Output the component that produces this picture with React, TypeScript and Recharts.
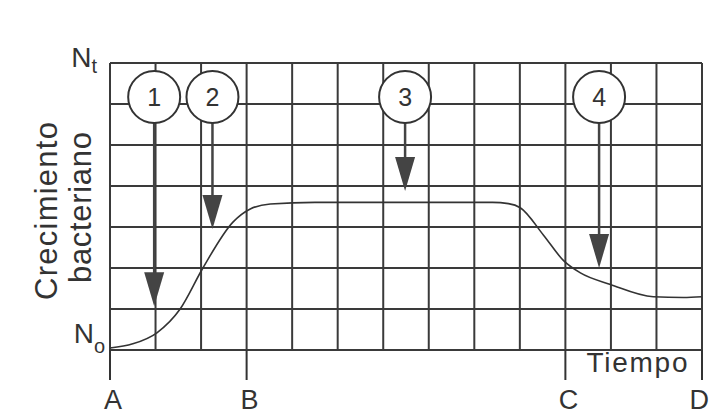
import React from 'react';
import { LineChart, Line, XAxis, YAxis, CartesianGrid, ReferenceLine, ReferenceDot } from 'recharts';

// curva de crecimiento (x en divisiones de la rejilla)
const tiempo = [0, 0.5, 1.03, 1.54, 2.04, 2.7, 3.08, 3.52, 4.5, 6.5, 8.4, 8.75, 9.01, 9.52, 9.96, 10.33, 10.99, 11.93, 12.59, 13];
const poblacion = [0.05, 0.15, 0.42, 1.0, 2.0, 3.12, 3.44, 3.56, 3.6, 3.6, 3.6, 3.57, 3.47, 2.8, 2.18, 1.88, 1.6, 1.3, 1.28, 1.3];

// rejilla
const gridX = [0, 1, 2, 3, 4, 5, 6, 7, 8, 9, 10, 11, 12, 13];
const gridY = [0, 1, 2, 3, 4, 5, 6, 7];

// letras del eje de tiempo
const letraTicks = [0, 3, 10, 13];
const letras = ['A', 'B', 'C', 'D'];

// N0 / Nt
const nTicks = [0, 7];
const nSub = ['o', 't'];

// fases numeradas
const fases = ['1', '2', '3', '4'];
const faseX = [0.97, 2.25, 6.48, 10.74];
const faseY = [6.17, 6.17, 6.17, 6.17];
const puntaY = [1.07, 2.95, 3.88, 2.0];

const data = tiempo.map((t, i) => ({ t, n: poblacion[i] }));

const INK = '#333';
const R = 26;

const Flecha = (props: any) => {
  const { x1, y1, x2, y2 } = props;
  const head = 34;
  const half = 10;
  return (
    <g>
      <line x1={x1} y1={y1 + R} x2={x2} y2={y2 - head + 2} stroke="#444" strokeWidth={2.5} />
      <polygon points={`${x2 - half},${y2 - head} ${x2 + half},${y2 - head} ${x2},${y2}`} fill="#444" />
    </g>
  );
};

const TickTiempo = ({ x, y, payload }: any) => {
  const i = letraTicks.indexOf(payload.value);
  if (i < 0) return <g />;
  const last = i === letras.length - 1;
  return (
    <g>
      <line x1={x} y1={y} x2={x} y2={y + 30} stroke={INK} strokeWidth={2} />
      <text x={last ? x + 7 : x + 3} y={y + 59} textAnchor={last ? 'end' : 'middle'} fontSize={27} fill={INK}>
        {letras[i]}
      </text>
    </g>
  );
};

const TickN = ({ x, y, payload }: any) => {
  const i = nTicks.indexOf(payload.value);
  if (i < 0) return <g />;
  const top = payload.value === 7;
  return (
    <text x={top ? x - 13 : x - 5} y={top ? y + 4 : y - 7} textAnchor="end" fontSize={28} fill={INK}>
      N
      <tspan fontSize={20} dy={top ? 6 : 10}>
        {nSub[i]}
      </tspan>
    </text>
  );
};

const EtiquetaY = ({ viewBox }: any) => {
  const cx = viewBox.x + viewBox.width;
  const cy = viewBox.y + viewBox.height / 2;
  return (
    <g fill={INK} fontSize={31}>
      <text transform={`translate(${cx - 53},${cy + 4.5}) rotate(-90)`} textAnchor="middle" textLength={178} lengthAdjust="spacing">
        Crecimiento
      </text>
      <text transform={`translate(${cx - 19},${cy + 1}) rotate(-90)`} textAnchor="middle" textLength={151} lengthAdjust="spacing">
        bacteriano
      </text>
    </g>
  );
};

const EtiquetaX = ({ viewBox }: any) => (
  <text
    x={viewBox.x + viewBox.width - 65}
    y={viewBox.y + 22}
    textAnchor="middle"
    fontSize={28}
    fill={INK}
    textLength={101}
    lengthAdjust="spacing"
  >
    Tiempo
  </text>
);

export default function App() {
  return (
    <div style={{ position: 'absolute', left: 0, top: 0, background: '#fff', fontFamily: '"Liberation Sans", Arial, sans-serif' }}>
      <LineChart width={709} height={416} data={data} margin={{ top: 63, right: 7, left: 100, bottom: 36 }}>
        <CartesianGrid stroke="#3a3a3a" strokeWidth={2} />
        <XAxis
          dataKey="t"
          type="number"
          domain={[0, 13]}
          ticks={gridX}
          height={30}
          axisLine={false}
          tickLine={false}
          tickSize={0}
          tickMargin={0}
          tick={<TickTiempo />}
          interval={0}
          label={<EtiquetaX />}
        />
        <YAxis
          type="number"
          domain={[0, 7]}
          ticks={gridY}
          width={10}
          axisLine={false}
          tickLine={false}
          tickSize={0}
          tickMargin={0}
          tick={<TickN />}
          interval={0}
          label={<EtiquetaY />}
        />
        <Line type="monotone" dataKey="n" stroke={INK} strokeWidth={1.6} dot={false} isAnimationActive={false} />
        {fases.map((f, i) => (
          <ReferenceLine
            key={'a' + f}
            segment={[
              { x: faseX[i], y: faseY[i] },
              { x: faseX[i], y: puntaY[i] },
            ]}
            shape={Flecha}
          />
        ))}
        {fases.map((f, i) => (
          <ReferenceDot
            key={'c' + f}
            x={faseX[i]}
            y={faseY[i]}
            r={R}
            fill="#fff"
            stroke={INK}
            strokeWidth={2}
            label={{ value: f, position: 'center', fontSize: 25, fill: INK }}
          />
        ))}
      </LineChart>
    </div>
  );
}
